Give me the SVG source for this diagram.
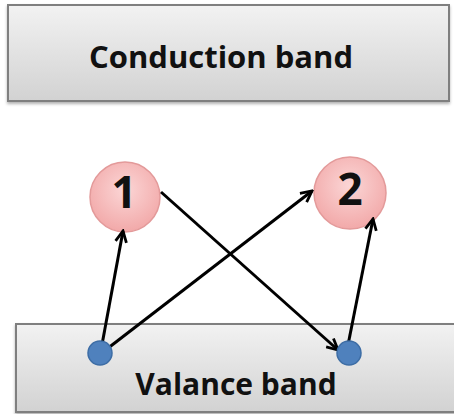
<svg xmlns="http://www.w3.org/2000/svg" width="454" height="414" viewBox="0 0 454 414">
  <defs>
    <linearGradient id="bandGrad" x1="0" y1="0" x2="0" y2="1">
      <stop offset="0" stop-color="#f2f2f2"/>
      <stop offset="1" stop-color="#d2d2d2"/>
    </linearGradient>
    <radialGradient id="pinkGrad" cx="0.5" cy="0.4" r="0.6">
      <stop offset="0" stop-color="#fbd6d6"/>
      <stop offset="1" stop-color="#f2a9a9"/>
    </radialGradient>
    <marker id="arrow" viewBox="0 0 14 14" refX="12" refY="7" markerWidth="14" markerHeight="14" markerUnits="userSpaceOnUse" orient="auto">
      <path d="M1,1.5 L12,7 L1,12.5" fill="none" stroke="#000" stroke-width="2.8" stroke-linejoin="miter"/>
    </marker>
    <filter id="shadow" x="-5%" y="-10%" width="110%" height="130%">
      <feDropShadow dx="0" dy="2" stdDeviation="1.5" flood-color="#000" flood-opacity="0.3"/>
    </filter>
  </defs>
  <style>
    .band { fill: url(#bandGrad); stroke: #7f7f7f; stroke-width: 2; }
    .label { font-family: "Open Sans", "Liberation Sans", sans-serif; font-weight: bold; fill: #111; text-anchor: middle; }
    .num { font-size: 44px; }
    .state { fill: url(#pinkGrad); stroke: #e39a9a; stroke-width: 1.5; }
    .dot { fill: #4f81bd; stroke: #3d6da5; stroke-width: 1.5; }
    .conn { stroke: #000; stroke-width: 3; fill: none; marker-end: url(#arrow); }
  </style>

  <g id="conduction-band">
    <rect class="band" x="8" y="5" width="441" height="96" filter="url(#shadow)"/>
    <text class="label" x="221" y="68" font-size="31">Conduction band</text>
  </g>

  <g id="valance-band">
    <rect class="band" x="16" y="324" width="445" height="88" filter="url(#shadow)"/>
    <text class="label" x="236" y="395" font-size="30">Valance band</text>
  </g>

  <g id="state-1">
    <circle class="state" cx="125" cy="197" r="35"/>
    <text class="label num" x="124" y="208">1</text>
  </g>

  <g id="state-2">
    <circle class="state" cx="350" cy="193" r="36"/>
    <text class="label num" x="350" y="205">2</text>
  </g>

  <g id="connectors">
    <line class="conn" x1="101" y1="350" x2="123" y2="231"/>
    <line class="conn" x1="103" y1="352" x2="312" y2="191"/>
    <line class="conn" x1="161" y1="192" x2="338" y2="350"/>
    <line class="conn" x1="347" y1="350" x2="373" y2="219"/>
  </g>

  <g id="electron-left">
    <circle class="dot" cx="100" cy="353" r="12"/>
  </g>

  <g id="electron-right">
    <circle class="dot" cx="349" cy="353" r="12"/>
  </g>
</svg>
